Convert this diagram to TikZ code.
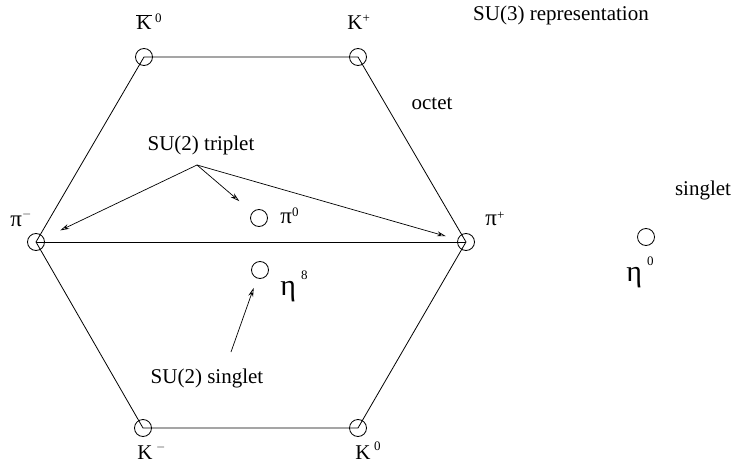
\documentclass[tikz,border=0pt]{standalone}
\usepackage{fontspec}
\setmainfont{Liberation Serif}
\usetikzlibrary{arrows.meta}
\newcommand{\upidx}[2]{\raisebox{#1pt}{\fontsize{13}{15}\selectfont #2}}
\tikzset{
  meson/.style={circle, draw, line width=0.8pt, minimum size=17pt, inner sep=0pt},
  lbl/.style={font=\fontsize{21}{24}\selectfont, inner sep=0pt},
  pname/.style={anchor=base west, inner sep=0pt, font=\fontsize{21}{24}\selectfont},
  big/.style={anchor=base west, inner sep=0pt, font=\fontsize{30}{34}\selectfont},
  pointer/.style={line width=0.7pt, -{Stealth[open, length=9pt, width=5pt]}}
}
\begin{document}
\begin{tikzpicture}[x=1pt, y=-1pt, line width=0.8pt]
      \useasboundingbox (0,0) rectangle (735,465);

      % Octet states
      \node[meson] (Kb)  at (144,57)  {};
      \node[meson] (Kp)  at (358,57)  {};
      \node[meson] (pim) at (36,242)  {};
      \node[meson] (pip) at (466,242) {};
      \node[meson] (Km)  at (143,428) {};
      \node[meson] (K0)  at (358,428) {};
      \node[meson] (pi0) at (259,218) {};
      \node[meson] (eta8) at (260,270) {};

      % Singlet state
      \node[meson] (eta0) at (646,237) {};

      % Hexagon
      \draw (Kb.center) -- (Kp.center) -- (pip.center) -- (K0.center)
            -- (Km.center) -- (pim.center) -- cycle;
      \draw (pim.center) -- (pip.center);

      % Particle names
      \node[pname] (lKb)  at (136,30)  {$\overline{\mbox{K}}$\,\upidx{7}{0}};
      \node[pname] (lKp)  at (347,30)  {K\upidx{7}{+}};
      \node[pname] (lKm)  at (137,459) {K\,\upidx{9}{$-$}};
      \node[pname] (lK0)  at (355,459) {K\,\upidx{9}{0}};
      \node[pname, font=\fontsize{23}{26}\selectfont] (lpim) at (10,226)  {π\upidx{9}{$-$}};
      \node[pname, font=\fontsize{23}{26}\selectfont] (lpip) at (485,225) {π\upidx{6}{+}};
      \node[pname, font=\fontsize{23}{26}\selectfont] (lpi0) at (280,223) {π\upidx{7}{0}};
      \node[big] (leta8) at (280,295) {η\,\upidx{16}{8}};
      \node[big] (leta0) at (626,281) {η\,\upidx{16}{0}};

      % Texts
      \node[lbl] (rep)     at (561,15)  {SU(3) representation};
      \node[lbl] (octet)   at (432,104) {octet};
      \node[lbl] (singlet) at (703,190) {singlet};
      \node[lbl] (triplet) at (201,145) {SU(2) triplet};
      \node[lbl] (su2s)    at (207,378) {SU(2) singlet};

      % Arrows
      \coordinate (tri) at (197,165);
      \coordinate (sgl) at (231,352);
      \draw[pointer, shorten >=18pt] (tri) -- (pim);
      \draw[pointer, shorten >=17pt] (tri) -- (pi0);
      \draw[pointer, shorten >=12pt] (tri) -- (pip);
      \draw[pointer, shorten >=10pt] (sgl) -- (eta8);

\end{tikzpicture}
\end{document}
